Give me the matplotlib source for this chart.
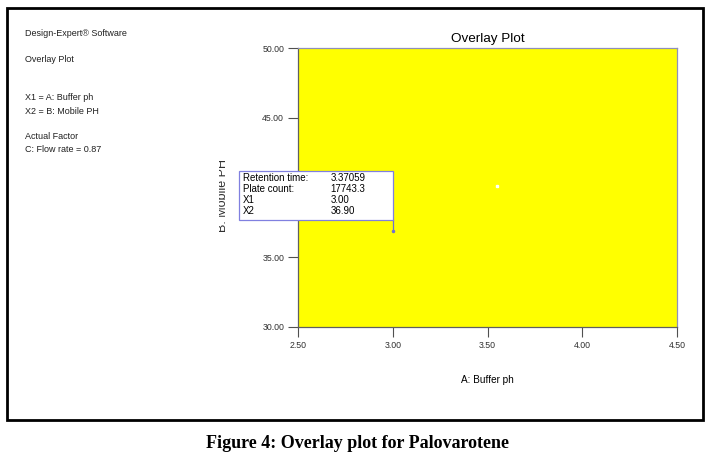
import numpy as np
import matplotlib.pyplot as plt
from matplotlib.patches import Rectangle
from matplotlib.transforms import Bbox

plt.rcParams['font.family'] = ['Liberation Sans', 'DejaVu Sans']

# Design space limits and ticks
x_range = [2.50, 4.50]
y_range = [30.00, 50.00]
x_ticks = [2.50, 3.00, 3.50, 4.00, 4.50]
y_ticks = [30.00, 35.00, 40.00, 45.00, 50.00]

# flagged point and its readout
flag_x1 = 3.00
flag_x2 = 36.90
flag_labels = ['Retention time:', 'Plate count:', 'X1', 'X2']
flag_values = ['3.37059', '17743.3', '3.00', '36.90']

# small white marker in the plot
dot_x = [3.55]
dot_y = [40.1]

info_lines = ['Design-Expert\u00ae Software', 'Overlay Plot', 'X1 = A: Buffer ph',
              'X2 = B: Mobile PH', 'Actual Factor', 'C: Flow rate = 0.87']
info_y = [34, 60, 98, 111, 137, 150]

W, H = 711, 471
fig = plt.figure(figsize=(W / 100, H / 100), dpi=100)

# outer frame
fig.patches.append(Rectangle((7 / W, 1 - 420 / H), 696 / W, 412 / H,
                             transform=fig.transFigure, fill=False,
                             edgecolor='black', linewidth=2.0))

ax = fig.add_axes([298 / W, 1 - 327 / H, 379 / W, 279 / H])
ax.set_facecolor('#ffff00')
ax.set_xlim(x_range)
ax.set_ylim(y_range)
ax.set_xticks(x_ticks)
ax.set_yticks(y_ticks)
ax.set_xticklabels(['%.2f' % v for v in x_ticks])
# the 40.00 label sits behind the readout box
ax.set_yticklabels(['' if v == 40 else '%.2f' % v for v in y_ticks])
ax.tick_params(direction='out', length=7, width=0.8, color='#505050',
               labelsize=6.3, labelcolor='#303030', pad=3)
for s in ['left', 'bottom']:
    ax.spines[s].set_color('#606060')
for s in ['top', 'right']:
    ax.spines[s].set_color('#9090b8')
for s in ax.spines.values():
    s.set_linewidth(0.9)

ax.set_title('Overlay Plot', fontsize=9.7, pad=4.5)
ax.set_xlabel('A: Buffer ph', fontsize=7.2)
ax.xaxis.set_label_coords(0.5, -0.172)
ylab = ax.set_ylabel('B: Mobile PH', fontsize=9, color='#303030')
ax.yaxis.set_label_coords(-0.182, 0.473)
# in the screenshot the left half of the label glyphs is cut off
ylab.set_clip_on(True)
ylab.set_clip_box(Bbox.from_extents(219, 0, 238, H))

ax.plot(dot_x, dot_y, 's', color='white', markersize=1.5)

# flag line and readout box
px = ax.transData.transform((flag_x1, flag_x2))
box_w, box_h, gap = 154, 49, 11
top_y = ax.transData.inverted().transform((px[0], px[1] + gap))[1]
ax.plot([flag_x1, flag_x1], [flag_x2, top_y],
        color='#7070d0', linewidth=0.9, zorder=6)
ax.plot([flag_x1], [flag_x2], 'o', color='#7070d0', markersize=1.5, zorder=6)
bx0, by0 = px[0] - box_w, px[1] + gap
ax.add_patch(Rectangle((bx0 / W, by0 / H), box_w / W, box_h / H,
                       transform=fig.transFigure, facecolor='white',
                       edgecolor='#8080e0', linewidth=0.9, zorder=10,
                       clip_on=False))
for i, (lab, val) in enumerate(zip(flag_labels, flag_values)):
    ty = (by0 + box_h - 7 - 11 * i) / H
    ax.text((bx0 + 4) / W, ty, lab, fontsize=7, va='center', zorder=11,
            transform=fig.transFigure, clip_on=False)
    ax.text((bx0 + 92) / W, ty, val, fontsize=7, va='center', zorder=11,
            transform=fig.transFigure, clip_on=False)

for t, y in zip(info_lines, info_y):
    fig.text(25 / W, 1 - y / H, t, fontsize=6.5, va='center', color='#202020')

fig.text(357 / W, 1 - 443 / H, 'Figure 4: Overlay plot for Palovarotene',
         fontsize=13, fontweight='bold', family='Liberation Serif',
         ha='center', va='center')

fig.savefig('out.png', dpi=100)
